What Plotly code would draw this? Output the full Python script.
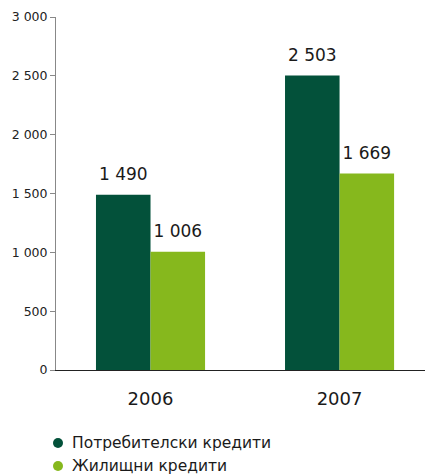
import plotly.graph_objects as go

years = ["2006", "2007"]
consumer = [1490, 2503]
housing = [1006, 1669]
series_names = ["Потребителски кредити", "Жилищни кредити"]
y_ticks = [0, 500, 1000, 1500, 2000, 2500, 3000]

DARK = "#03513A"
LIGHT = "#86B81D"
COLORS = [DARK, LIGHT]
FONT = "DejaVu Sans"
GAP = 0.423

W, H = 425, 475
ML, MR, MT, MB = 56, 0, 17, 105
PW, PH = W - ML - MR, H - MT - MB

def fmt(v):
    return f"{v:,}".replace(",", " ")

fig = go.Figure()
for name, vals, col, grp in [(series_names[0], consumer, DARK, "a"), (series_names[1], housing, LIGHT, "b")]:
    fig.add_trace(go.Bar(x=years, y=vals, marker=dict(color=col, line=dict(width=0)), showlegend=False,
                         name=name, offsetgroup=grp, hoverinfo="skip"))
for name, vals, col, grp in [(series_names[0], consumer, DARK, "a"), (series_names[1], housing, LIGHT, "b")]:
    fig.add_trace(go.Scatter(x=years, y=vals, mode="markers+text", text=[fmt(v) for v in vals],
                             textposition="top center", offsetgroup=grp, showlegend=False,
                             marker=dict(size=15, color="rgba(0,0,0,0)"), cliponaxis=False,
                             textfont=dict(family=FONT, size=17, color="#1a1a1a"), hoverinfo="skip"))

# legend drawn as shapes + annotations (in paper coordinates)
shapes, annotations = [], []
for i, (name, col) in enumerate(zip(series_names, COLORS)):
    py = 443 + 23 * i
    yf = (MT + PH - py) / PH
    xf = (58 - ML) / PW
    shapes.append(dict(type="circle", xref="paper", yref="paper", xsizemode="pixel", ysizemode="pixel",
                       xanchor=xf, yanchor=yf, x0=-5, x1=5, y0=-5, y1=5,
                       fillcolor=col, line=dict(width=0)))
    annotations.append(dict(xref="paper", yref="paper", x=(70 - ML) / PW, y=yf, text=name,
                            showarrow=False, xanchor="left", yanchor="middle",
                            font=dict(family=FONT, size=15.5, color="#1a1a1a")))

fig.update_layout(
    width=W, height=H,
    margin=dict(l=ML, r=MR, t=MT, b=MB),
    paper_bgcolor="white", plot_bgcolor="white",
    barmode="group", bargap=GAP, bargroupgap=0,
    scattermode="group", scattergap=GAP,
    shapes=shapes, annotations=annotations,
    xaxis=dict(type="category", range=[-0.5, 1.452], showline=True, linecolor="#222", linewidth=1,
               ticks="outside", ticklen=12, tickcolor="rgba(0,0,0,0)", showgrid=False,
               automargin=False,
               tickfont=dict(family=FONT, size=18, color="#1a1a1a")),
    yaxis=dict(range=[0, 3000], tickvals=y_ticks, ticktext=[fmt(v) for v in y_ticks],
               showline=True, linecolor="#888", linewidth=1, ticks="outside", ticklen=5,
               tickcolor="#888", showgrid=False, zeroline=False, automargin=False,
               tickfont=dict(family=FONT, size=12.5, color="#222")),
    showlegend=False,
)

fig.write_html("out.html", config={"displayModeBar": False},
               post_script="document.body.style.margin='0px';")
